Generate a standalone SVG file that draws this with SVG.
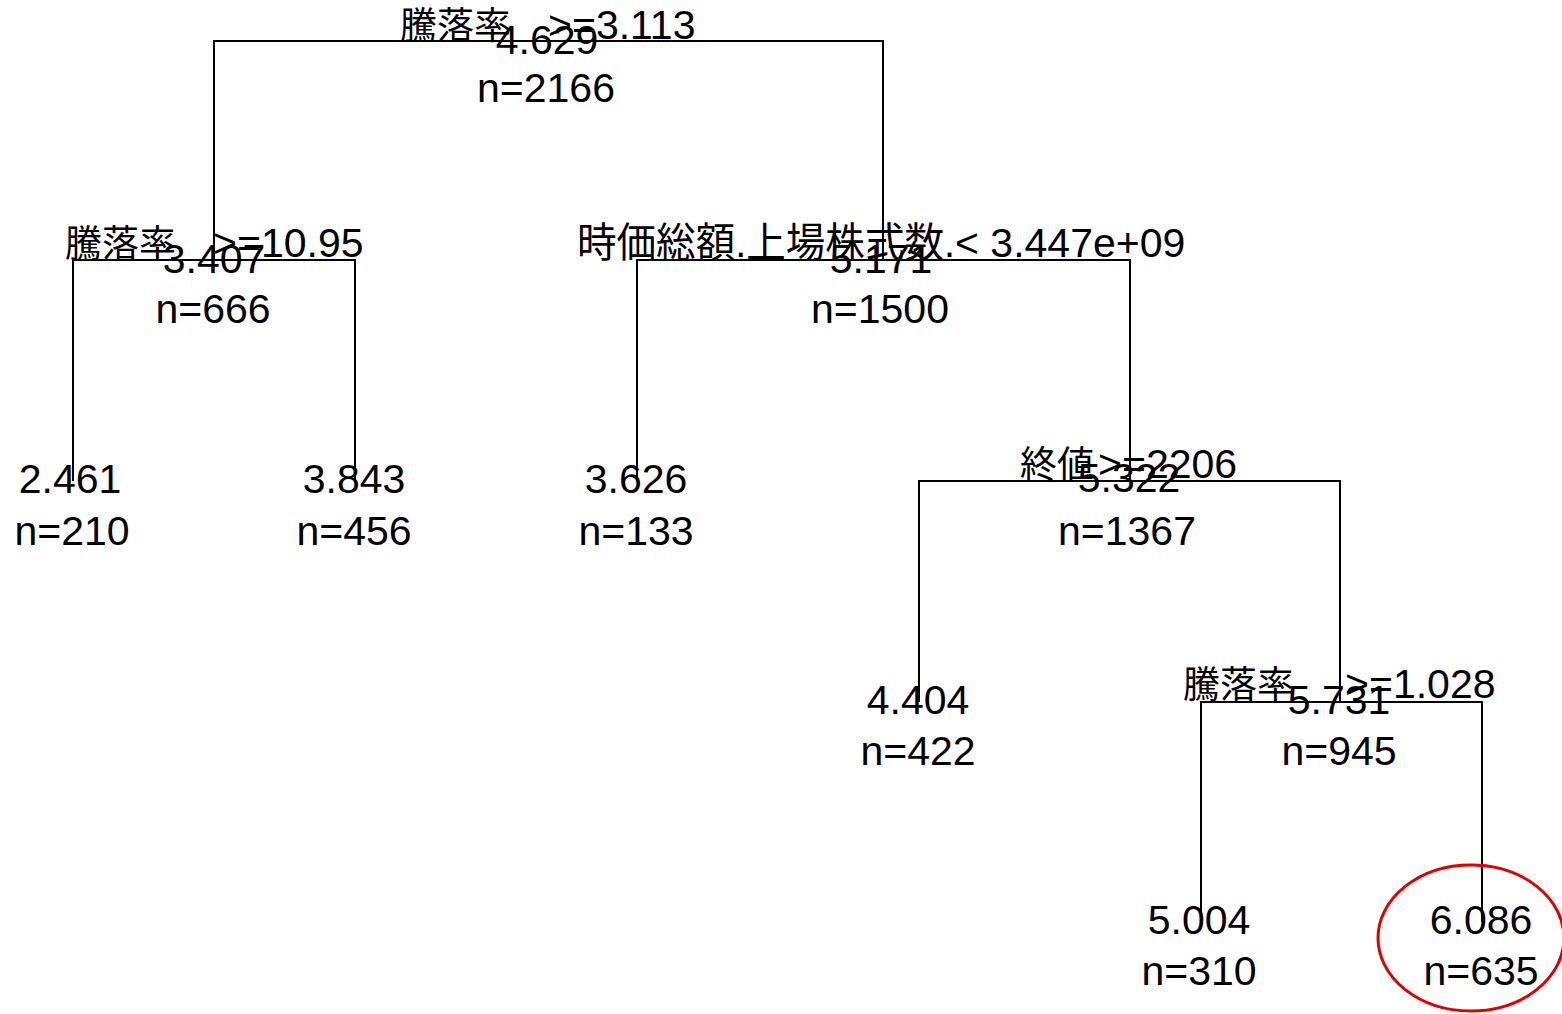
<svg xmlns="http://www.w3.org/2000/svg" width="1562" height="1014" viewBox="0 0 1562 1014">
<style>
.t{font-family:"Liberation Sans",Arial,"Noto Sans CJK JP",sans-serif;font-size:41px;fill:#000}
.c{text-anchor:middle}
.j{font-family:"Noto Sans CJK JP","Liberation Sans",sans-serif;font-size:37px}
.e{fill:none;stroke:#000;stroke-width:2}
</style>
<rect width="1562" height="1014" fill="#fff"/>
<g id="connectors" class="e">
<path d="M548 41H214V260"/>
<path d="M548 41H883V260"/>
<path d="M214 260H73V481"/>
<path d="M214 260H355V481"/>
<path d="M883 260H637V481"/>
<path d="M883 260H1130V481"/>
<path d="M1130 481H919V702"/>
<path d="M1130 481H1340V702"/>
<path d="M1340 702H1201V922"/>
<path d="M1340 702H1482V922"/>
</g>
<g id="node1">
<text class="t" y="39"><tspan class="j" x="400">騰落率 </tspan><tspan x="548">&gt;=3.113</tspan></text>
<text class="t c" x="547" y="54">4.629</text>
<text class="t c" x="546" y="102">n=2166</text>
</g>
<g id="node2">
<text class="t" y="257"><tspan class="j" x="65">騰落率 </tspan><tspan x="213">&gt;=10.95</tspan></text>
<text class="t c" x="214" y="273">3.407</text>
<text class="t c" x="213" y="323">n=666</text>
</g>
<g id="node3">
<text class="t" y="257" x="577"><tspan textLength="378" lengthAdjust="spacingAndGlyphs">時価総額.上場株式数.</tspan><tspan x="955">&lt; 3.447e+09</tspan></text>
<text class="t c" x="881" y="273">5.171</text>
<text class="t c" x="880" y="323">n=1500</text>
</g>
<g id="node4">
<text class="t c" x="70" y="493">2.461</text>
<text class="t c" x="72" y="545">n=210</text>
</g>
<g id="node5">
<text class="t c" x="354" y="493">3.843</text>
<text class="t c" x="354" y="545">n=456</text>
</g>
<g id="node6">
<text class="t c" x="636" y="493">3.626</text>
<text class="t c" x="636" y="545">n=133</text>
</g>
<g id="node7">
<text class="t" y="478"><tspan class="j" x="1020">終値</tspan><tspan x="1098">&gt;=2206</tspan></text>
<text class="t c" x="1129" y="492">5.322</text>
<text class="t c" x="1127" y="545">n=1367</text>
</g>
<g id="node14">
<text class="t c" x="918" y="714">4.404</text>
<text class="t c" x="918" y="765">n=422</text>
</g>
<g id="node15">
<text class="t" y="698"><tspan class="j" x="1183">騰落率 </tspan><tspan x="1345">&gt;=1.028</tspan></text>
<text class="t c" x="1339" y="714">5.731</text>
<text class="t c" x="1339" y="765">n=945</text>
</g>
<g id="node30">
<text class="t c" x="1199" y="934">5.004</text>
<text class="t c" x="1199" y="985">n=310</text>
</g>
<g id="node31">
<text class="t c" x="1481" y="934">6.086</text>
<text class="t c" x="1481" y="985">n=635</text>
<ellipse cx="1471" cy="938" rx="93" ry="73" fill="none" stroke="#e00000" stroke-width="3"/>
</g>
</svg>
